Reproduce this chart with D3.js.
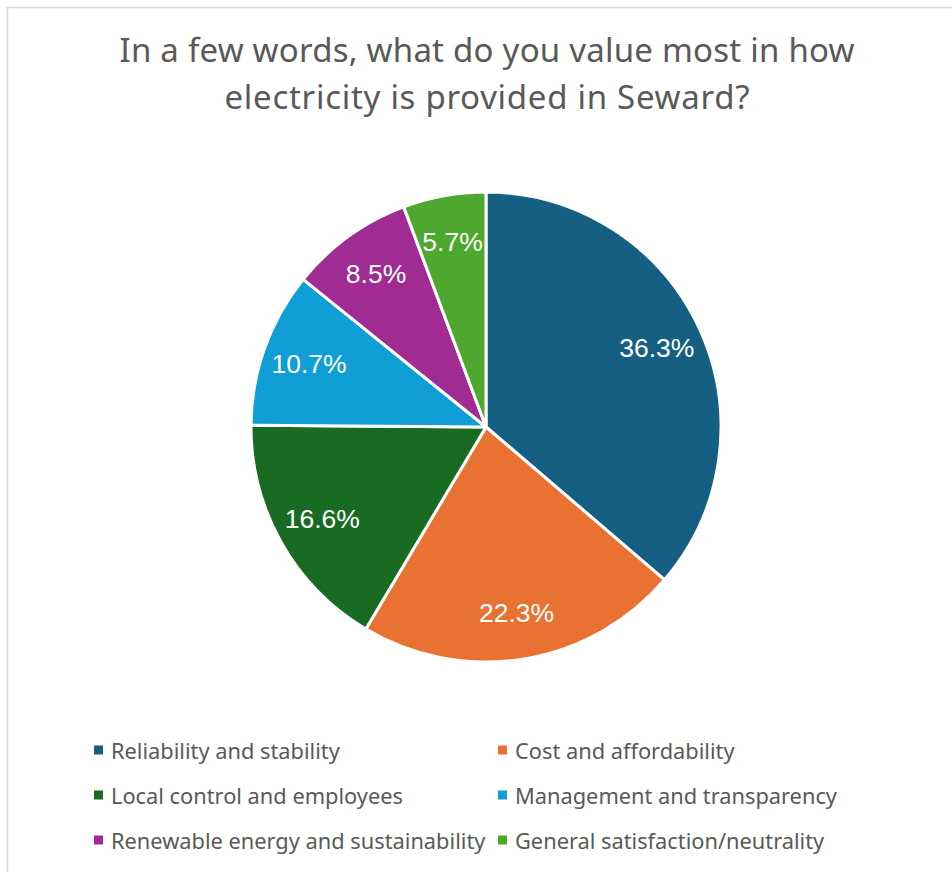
<!DOCTYPE html>
<html>
<head>
<meta charset="utf-8">
<script src="https://cdn.jsdelivr.net/npm/d3@7"></script>
<style>
  html, body { margin: 0; padding: 0; background: #fff; }
  svg { display: block; }
</style>
</head>
<body>
<svg id="chart" width="952" height="872"></svg>
<script>
// Survey responses: what people value most in how electricity is provided
const categories = [
  "Reliability and stability",
  "Cost and affordability",
  "Local control and employees",
  "Management and transparency",
  "Renewable energy and sustainability",
  "General satisfaction/neutrality"
];
const shares = [36.3, 22.3, 16.6, 10.7, 8.5, 5.7];
const colors = ["#156082", "#E97132", "#196B24", "#0F9ED5", "#A02B93", "#4EA72E"];
const titleLines = [
  "In a few words, what do you value most in how",
  "electricity is provided in Seward?"
];
const titleWidths = [735, 525];

const svg = d3.select("#chart");
const uiFont = "'Noto Sans', 'Open Sans', sans-serif";

// chart frame
svg.append("rect")
  .attr("x", 7.5).attr("y", 7.5)
  .attr("width", 980).attr("height", 900)
  .attr("fill", "#fff")
  .attr("stroke", "#d9d9d9")
  .attr("stroke-width", 1.5);

// title
svg.append("g")
  .selectAll("text")
  .data(titleLines)
  .join("text")
  .attr("x", 487)
  .attr("y", (d, i) => 62 + i * 47)
  .attr("text-anchor", "middle")
  .attr("font-family", uiFont)
  .attr("font-size", 33)
  .attr("textLength", (d, i) => titleWidths[i])
  .attr("fill", "#595959")
  .text(d => d);

// pie
const cx = 486, cy = 427, R = 235;
const data = categories.map((c, i) => ({ cat: c, value: shares[i], color: colors[i] }));
const pie = d3.pie().value(d => d.value).sort(null);
const arc = d3.arc().innerRadius(0).outerRadius(R);
const labelArc = d3.arc().innerRadius(188).outerRadius(188);

const g = svg.append("g").attr("transform", `translate(${cx},${cy})`);
const arcs = pie(data);

g.selectAll("path")
  .data(arcs)
  .join("path")
  .attr("d", arc)
  .attr("fill", d => d.data.color)
  .attr("stroke", "#fff")
  .attr("stroke-width", 3)
  .attr("stroke-linejoin", "round");

g.selectAll("text")
  .data(arcs)
  .join("text")
  .attr("transform", d => `translate(${labelArc.centroid(d)})`)
  .attr("text-anchor", "middle")
  .attr("dominant-baseline", "central")
  .attr("font-family", "'Liberation Sans', Arial, sans-serif")
  .attr("font-size", 26.5)
  .attr("fill", "#fff")
  .text(d => d3.format(".1f")(d.data.value) + "%");

// legend: two columns, three rows
const legend = svg.append("g");
const items = legend.selectAll("g")
  .data(data)
  .join("g")
  .attr("transform", (d, i) => `translate(${i % 2 === 0 ? 94 : 498},${750 + Math.floor(i / 2) * 45})`);

items.append("rect")
  .attr("x", 0).attr("y", -4.5)
  .attr("width", 9).attr("height", 9)
  .attr("fill", d => d.color);

items.append("text")
  .attr("x", 17)
  .attr("y", 0)
  .attr("dominant-baseline", "central")
  .attr("font-family", uiFont)
  .attr("font-size", 21.8)
  .attr("fill", "#595959")
  .text(d => d.cat);
</script>
</body>
</html>
